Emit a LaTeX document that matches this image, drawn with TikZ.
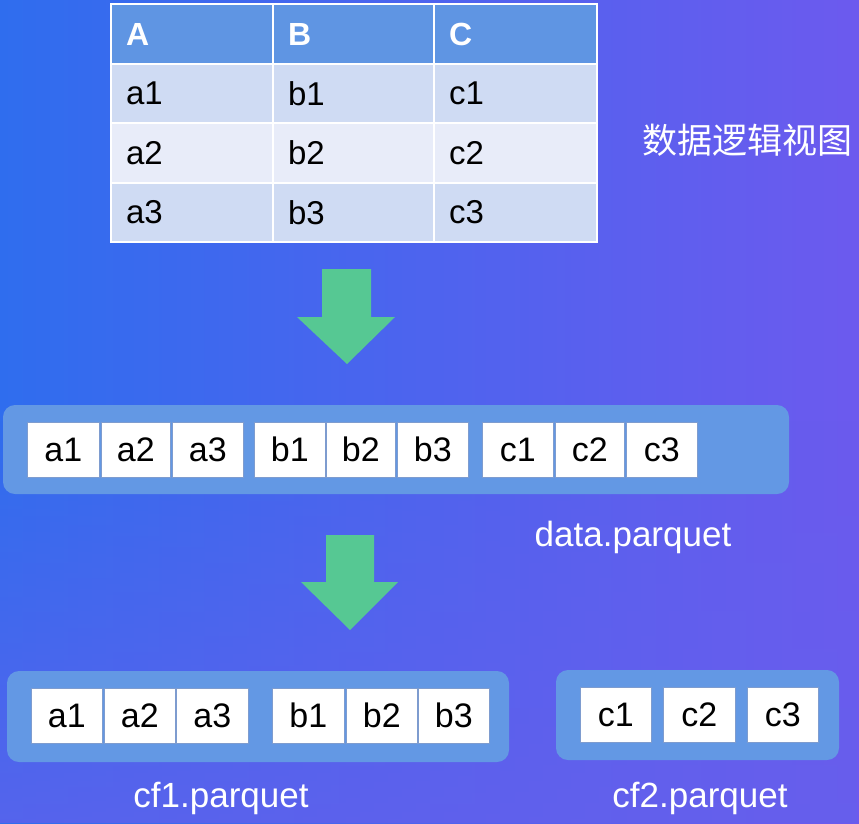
\documentclass[tikz,border=0pt]{standalone}
\usepackage{fontspec}
\setmainfont{Liberation Sans}
\newfontfamily\cjk{Noto Sans CJK SC}
\usetikzlibrary{fadings}
\definecolor{bgL}{HTML}{2F6DEE}
\definecolor{bgM}{HTML}{5566ED}
\definecolor{bgR}{HTML}{6C5AEE}
\definecolor{bgB}{HTML}{6560EC}
\definecolor{boxblue}{HTML}{6398E4}
\definecolor{hdr}{HTML}{5F95E3}
\definecolor{rowA}{HTML}{CFDBF3}
\definecolor{rowB}{HTML}{E8ECF9}
\definecolor{cellline}{HTML}{7E9CCF}
\definecolor{arrowgreen}{HTML}{56C893}
\tikzset{
  container/.style={fill=boxblue, rounded corners=12pt, draw=none},
  cell/.style={fill=white, draw=cellline, line width=0.6pt, inner sep=0pt, anchor=north west,
    font=\fontsize{34}{40}\selectfont, text=black},
  tcell/.style={draw=white, line width=2pt, inner sep=0pt, anchor=north west, align=left,
    font=\fontsize{33}{39}\selectfont, text=black},
  thead/.style={tcell, fill=hdr, text=white, font=\fontsize{32}{38}\selectfont\bfseries},
  lbl/.style={text=white, font=\fontsize{35}{42}\selectfont, inner sep=0pt},
  bigarrow/.style={fill=arrowgreen, draw=none}
}
\newcommand{\tc}[6]{% name, x, y, w, h, style/text
  \node[#6, minimum width=#4pt, minimum height=#5pt, text width=#4pt-30pt] (#1) at (#2,#3) }
\begin{document}
\begin{tikzpicture}[x=1pt,y=-1pt]
\useasboundingbox (0,0) rectangle (859,823);
\begin{scope}[y=1pt]
\shade[left color=bgL, middle color=bgM, right color=bgR] (0,-823) rectangle (859,0);
\fill[bgB, opacity=0.7, path fading=north] (0,-823) rectangle (859,-420);
\end{scope}

% ---------- table ----------
\tc{hA}{110}{3}{162}{60}{thead}{A};
\tc{hB}{272}{3}{161}{60}{thead}{B};
\tc{hC}{433}{3}{163}{60}{thead}{C};
\tc{a1t}{110}{63}{162}{59}{tcell,fill=rowA}{a1};
\tc{b1t}{272}{63}{161}{59}{tcell,fill=rowA}{b1};
\tc{c1t}{433}{63}{163}{59}{tcell,fill=rowA}{c1};
\tc{a2t}{110}{122}{162}{60}{tcell,fill=rowB}{a2};
\tc{b2t}{272}{122}{161}{60}{tcell,fill=rowB}{b2};
\tc{c2t}{433}{122}{163}{60}{tcell,fill=rowB}{c2};
\tc{a3t}{110}{182}{162}{59}{tcell,fill=rowA}{a3};
\tc{b3t}{272}{182}{161}{59}{tcell,fill=rowA}{b3};
\tc{c3t}{433}{182}{163}{59}{tcell,fill=rowA}{c3};

\node[text=white, font=\cjk\fontsize{35}{42}\selectfont, inner sep=0pt] (title) at (747,140) {数据逻辑视图};

% ---------- arrow 1 ----------
\fill[bigarrow] (322,269) -- (371,269) -- (371,317) -- (395,317) -- (347,364) -- (297,317) -- (322,317) -- cycle;

% ---------- data.parquet ----------
\path[container] (3,405) rectangle (789,494);
\node[cell, minimum width=72pt, minimum height=55pt] (d1) at (27,422) {a1};
\node[cell, minimum width=69pt, minimum height=55pt] (d2) at (101,422) {a2};
\node[cell, minimum width=71pt, minimum height=55pt] (d3) at (172,422) {a3};
\node[cell, minimum width=71pt, minimum height=55pt] (d4) at (254,422) {b1};
\node[cell, minimum width=69pt, minimum height=55pt] (d5) at (326,422) {b2};
\node[cell, minimum width=71pt, minimum height=55pt] (d6) at (397,422) {b3};
\node[cell, minimum width=71pt, minimum height=55pt] (d7) at (482,422) {c1};
\node[cell, minimum width=69pt, minimum height=55pt] (d8) at (555,422) {c2};
\node[cell, minimum width=71pt, minimum height=55pt] (d9) at (626,422) {c3};
\node[lbl] (datalbl) at (633,537) {data.parquet};

% ---------- arrow 2 ----------
\fill[bigarrow] (326,535) -- (374,535) -- (374,582) -- (398,582) -- (350,630) -- (301,582) -- (326,582) -- cycle;

% ---------- cf1.parquet ----------
\path[container] (7,671) rectangle (509,762);
\node[cell, minimum width=71pt, minimum height=55pt] (e1) at (31,688) {a1};
\node[cell, minimum width=71pt, minimum height=55pt] (e2) at (104,688) {a2};
\node[cell, minimum width=72pt, minimum height=55pt] (e3) at (176,688) {a3};
\node[cell, minimum width=72pt, minimum height=55pt] (e4) at (272,688) {b1};
\node[cell, minimum width=71pt, minimum height=55pt] (e5) at (346,688) {b2};
\node[cell, minimum width=71pt, minimum height=55pt] (e6) at (418,688) {b3};
\node[lbl] (cf1lbl) at (221,798) {cf1.parquet};

% ---------- cf2.parquet ----------
\path[container] (556,670) rectangle (839,760);
\node[cell, minimum width=71pt, minimum height=55pt] (f1) at (580,687) {c1};
\node[cell, minimum width=72pt, minimum height=55pt] (f2) at (663,687) {c2};
\node[cell, minimum width=71pt, minimum height=55pt] (f3) at (747,687) {c3};
\node[lbl] (cf2lbl) at (700,798) {cf2.parquet};
\end{tikzpicture}
\end{document}
